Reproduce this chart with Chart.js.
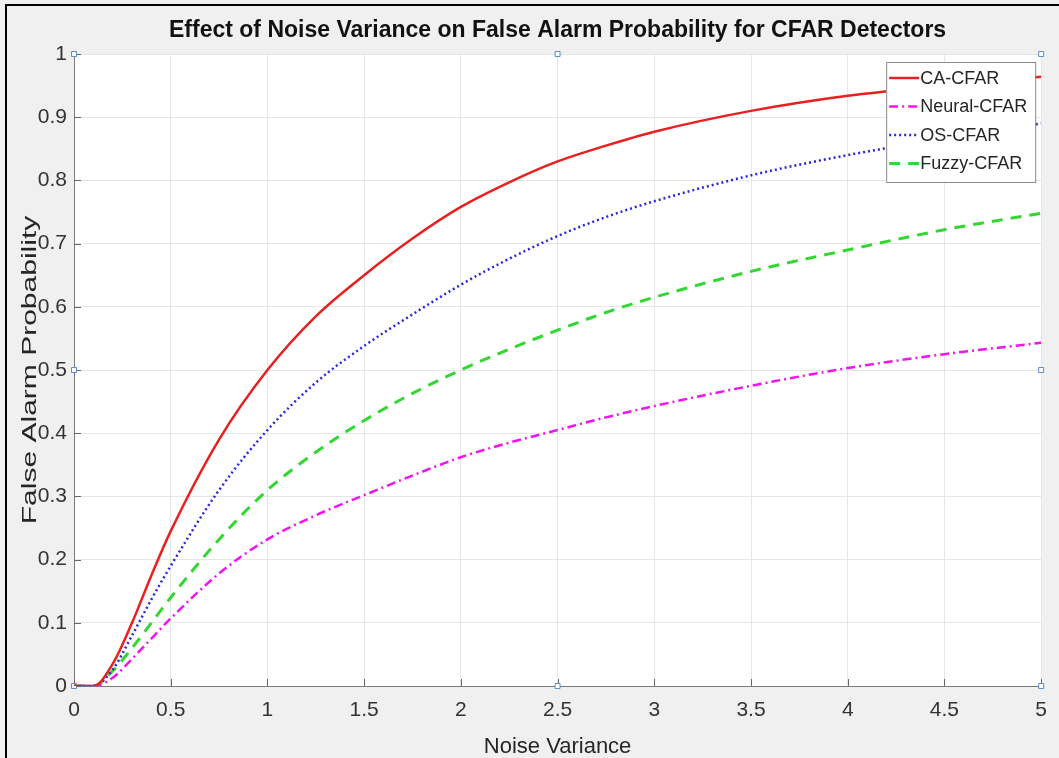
<!DOCTYPE html>
<html>
<head>
<meta charset="utf-8">
<script src="https://cdn.jsdelivr.net/npm/chart.js@4.4.1/dist/chart.umd.min.js"></script>
<style>
  html, body { margin: 0; padding: 0; background: #f0f0f0; }
</style>
</head>
<body>
<canvas id="grafico" width="1059" height="758"></canvas>
<script>
// values
const noiseVar   = [0, 0.1, 0.2, 0.3, 0.4, 0.5, 0.75, 1.0, 1.25, 1.5, 1.75, 2.0, 2.25, 2.5, 2.75, 3.0, 3.5, 4.0, 4.5, 5.0];
const caCfar     = [0, 0, 0.035, 0.1, 0.175, 0.245, 0.39, 0.5, 0.585, 0.65, 0.708, 0.758, 0.797, 0.83, 0.855, 0.877, 0.91, 0.934, 0.95, 0.964];
const neuralCfar = [0, 0, 0.013, 0.043, 0.075, 0.107, 0.178, 0.232, 0.27, 0.302, 0.333, 0.362, 0.385, 0.405, 0.425, 0.443, 0.475, 0.503, 0.525, 0.543];
const osCfar     = [0, 0, 0.026, 0.08, 0.137, 0.19, 0.31, 0.405, 0.48, 0.538, 0.588, 0.635, 0.676, 0.712, 0.742, 0.767, 0.808, 0.84, 0.866, 0.89];
const fuzzyCfar  = [0, 0, 0.024, 0.06, 0.1, 0.14, 0.232, 0.31, 0.37, 0.42, 0.463, 0.5, 0.533, 0.563, 0.591, 0.615, 0.656, 0.69, 0.722, 0.748];

// small edit handles visible on the axes box
const handleX = [0, 2.5, 5, 0, 5, 0, 2.5, 5];
const handleY = [1, 1, 1, 0.5, 0.5, 0, 0, 0];

const titulo = 'Effect of Noise Variance on False Alarm Probability for CFAR Detectors';
const xTitulo = 'Noise Variance';
const yTitulo = 'False Alarm Probability';

const FONT = '"Liberation Sans", Arial, sans-serif';

function puntos(ys) {
  return noiseVar.map((x, i) => ({ x: x, y: ys[i] }));
}

const decor = {
  id: 'decor',
  beforeDraw(chart) {
    const { ctx, chartArea: a, width, height } = chart;
    ctx.save();
    ctx.fillStyle = '#f0f0f0';
    ctx.fillRect(0, 0, width, height);
    ctx.fillStyle = '#ffffff';
    ctx.fillRect(a.left, a.top, a.right - a.left, a.bottom - a.top);
    ctx.restore();
  },
  beforeDatasetsDraw(chart) {
    // inward tick marks, matlab style
    const { ctx, chartArea: a, scales } = chart;
    ctx.save();
    ctx.strokeStyle = '#666';
    ctx.lineWidth = 1;
    ctx.beginPath();
    scales.x.ticks.forEach(t => {
      const px = Math.round(scales.x.getPixelForValue(t.value)) + 0.5;
      ctx.moveTo(px, a.bottom);
      ctx.lineTo(px, a.bottom - 7);
    });
    scales.y.ticks.forEach(t => {
      const py = Math.round(scales.y.getPixelForValue(t.value)) + 0.5;
      ctx.moveTo(a.left, py);
      ctx.lineTo(a.left + 7, py);
    });
    ctx.stroke();
    ctx.restore();
  },
  afterDraw(chart) {
    const { ctx, chartArea: a } = chart;
    ctx.save();

    // title
    ctx.fillStyle = '#111';
    ctx.font = 'bold 23px ' + FONT;
    ctx.textAlign = 'center';
    ctx.textBaseline = 'middle';
    ctx.fillText(titulo, (a.left + a.right) / 2, 31);

    // x axis title
    ctx.fillStyle = '#262626';
    ctx.font = '22px ' + FONT;
    ctx.fillText(xTitulo, (a.left + a.right) / 2, 747);

    // y axis title (stretched along its length like the reference)
    ctx.save();
    ctx.translate(30, (a.top + a.bottom) / 2);
    ctx.rotate(-Math.PI / 2);
    ctx.scale(1.5, 1);
    ctx.font = '20px ' + FONT;
    ctx.fillText(yTitulo, 0, 0);
    ctx.restore();

    // legend box inside the axes, top right
    const items = chart.data.datasets.filter(d => !d.esHandle);
    const lw = 149, lh = 120;
    const lx = a.right - lw - 6, ly = a.top + 8;
    ctx.fillStyle = '#ffffff';
    ctx.fillRect(lx, ly, lw, lh);
    ctx.strokeStyle = '#8c8c8c';
    ctx.lineWidth = 1;
    ctx.strokeRect(lx + 0.5, ly + 0.5, lw, lh);
    ctx.font = '18px ' + FONT;
    ctx.textAlign = 'left';
    ctx.textBaseline = 'middle';
    items.forEach((d, i) => {
      const yy = ly + 16 + i * 28.5;
      ctx.save();
      ctx.strokeStyle = d.borderColor;
      ctx.lineWidth = d.borderWidth;
      ctx.setLineDash(d.borderDash || []);
      ctx.beginPath();
      ctx.moveTo(lx + 3, yy);
      ctx.lineTo(lx + 33, yy);
      ctx.stroke();
      ctx.restore();
      ctx.fillStyle = '#262626';
      ctx.fillText(d.label, lx + 34, yy + 1);
    });

    // black frame of the screenshot
    ctx.strokeStyle = '#000';
    ctx.lineWidth = 2;
    ctx.beginPath();
    ctx.moveTo(6, 758);
    ctx.lineTo(6, 5);
    ctx.lineTo(1059, 5);
    ctx.stroke();

    ctx.restore();
  }
};

const ctx = document.getElementById('grafico');

new Chart(ctx, {
  type: 'line',
  data: {
    datasets: [{
      label: 'CA-CFAR',
      data: puntos(caCfar),
      borderColor: 'rgb(232, 32, 32)',
      borderWidth: 2.5
    },
    {
      label: 'Neural-CFAR',
      data: puntos(neuralCfar),
      borderColor: 'rgb(240, 20, 240)',
      borderWidth: 2.5,
      borderDash: [9, 4, 2, 4]
    },
    {
      label: 'OS-CFAR',
      data: puntos(osCfar),
      borderColor: 'rgb(40, 40, 215)',
      borderWidth: 2.5,
      borderDash: [2, 3]
    },
    {
      label: 'Fuzzy-CFAR',
      data: puntos(fuzzyCfar),
      borderColor: 'rgb(50, 215, 50)',
      borderWidth: 3,
      borderDash: [11, 8]
    },
    {
      label: 'handles',
      esHandle: true,
      data: handleX.map((x, i) => ({ x: x, y: handleY[i] })),
      showLine: false,
      pointStyle: 'rect',
      pointRadius: 3.5,
      pointBackgroundColor: '#ffffff',
      pointBorderColor: 'rgb(90, 140, 210)',
      pointBorderWidth: 1,
      clip: false
    }]
  },
  options: {
    responsive: false,
    animation: false,
    cubicInterpolationMode: 'monotone',
    layout: { padding: { top: 54, right: 17, left: 0, bottom: 0 } },
    elements: { point: { radius: 0 } },
    plugins: {
      legend: { display: false },
      tooltip: { enabled: false }
    },
    scales: {
      x: {
        type: 'linear',
        min: 0,
        max: 5,
        afterFit: s => { s.height = 72; },
        grid: { color: '#e6e6e6', drawTicks: false },
        border: { color: '#7a7a7a' },
        ticks: {
          stepSize: 0.5,
          padding: 12,
          color: '#333',
          font: { family: FONT, size: 21 },
          maxRotation: 0,
          callback: v => String(Number(v.toFixed(1)))
        }
      },
      y: {
        type: 'linear',
        min: 0,
        max: 1,
        afterFit: s => { s.width = 74; },
        grid: { color: '#e6e6e6', drawTicks: false },
        border: { color: '#7a7a7a' },
        ticks: {
          stepSize: 0.1,
          padding: 7,
          color: '#333',
          font: { family: FONT, size: 21 },
          callback: v => String(Number(v.toFixed(1)))
        }
      }
    }
  },
  plugins: [decor]
});
</script>
</body>
</html>
